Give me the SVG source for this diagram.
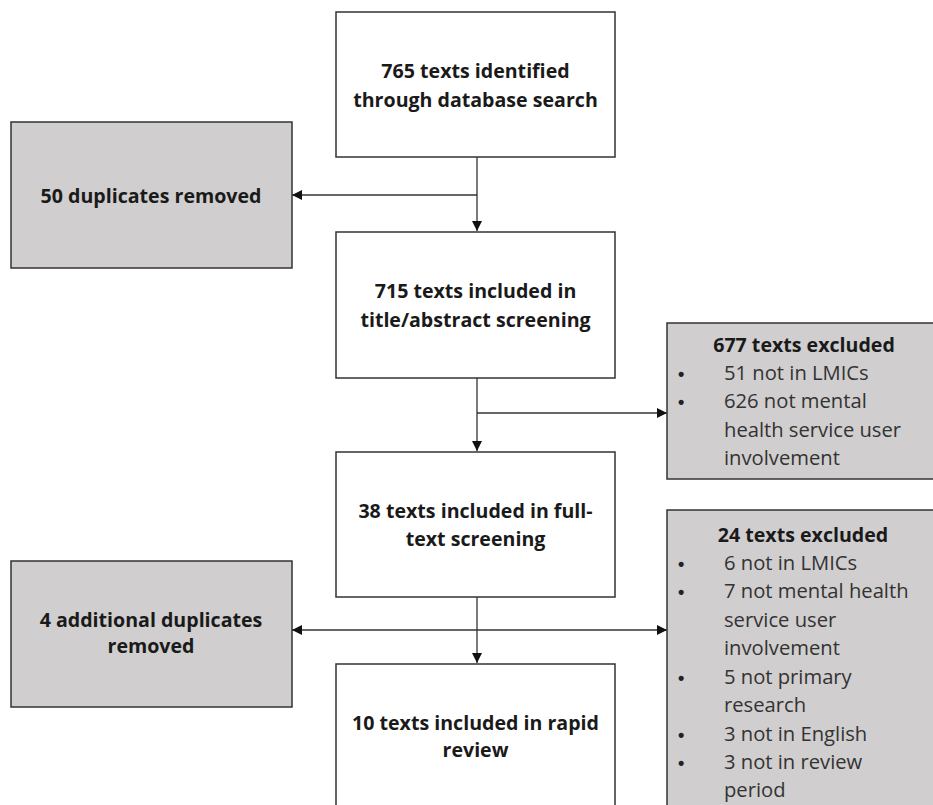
<svg xmlns="http://www.w3.org/2000/svg" width="933" height="805" viewBox="0 0 933 805">
<defs>
<marker id="ah" viewBox="0 0 10 10" refX="10" refY="5" markerWidth="10" markerHeight="10" markerUnits="userSpaceOnUse" orient="auto">
<path d="M0,0 L10,5 L0,10 Z" fill="#111"/>
</marker>
</defs>
<style>
.main{fill:#ffffff;stroke:#333;stroke-width:1.5}
.side{fill:#d0cece;stroke:#333;stroke-width:1.5}
.b{font-family:"Open Sans","Liberation Sans",sans-serif;font-weight:bold;font-size:19.6px;fill:#1a1a1a;text-anchor:middle}
.r{font-family:"Open Sans","Liberation Sans",sans-serif;font-size:20.2px;fill:#333}
.bul{font-family:"Liberation Sans",sans-serif;font-size:18px;font-weight:bold;fill:#222}
.c{stroke:#333;stroke-width:1.3;fill:none}
</style>
<rect width="933" height="805" fill="#ffffff"/>
<g id="connectors">
<line class="c" x1="477" y1="157" x2="477" y2="231" marker-end="url(#ah)"/>
<line class="c" x1="477" y1="195" x2="292" y2="195" marker-end="url(#ah)"/>
<line class="c" x1="477" y1="378" x2="477" y2="451" marker-end="url(#ah)"/>
<line class="c" x1="477" y1="413" x2="667" y2="413" marker-end="url(#ah)"/>
<line class="c" x1="477" y1="597" x2="477" y2="663" marker-end="url(#ah)"/>
<line class="c" x1="477" y1="630" x2="292" y2="630" marker-end="url(#ah)"/>
<line class="c" x1="477" y1="630" x2="667" y2="630" marker-end="url(#ah)"/>
</g>
<g id="n1">
<rect class="main" x="336" y="12" width="279" height="145"/>
<text class="b" x="475.5" y="78">765 texts identified</text>
<text class="b" x="475.5" y="107">through database search</text>
</g>
<g id="n2">
<rect class="side" x="11" y="122" width="281" height="146"/>
<text class="b" x="151" y="203">50 duplicates removed</text>
</g>
<g id="n3">
<rect class="main" x="336" y="232" width="279" height="146"/>
<text class="b" x="475.5" y="298">715 texts included in</text>
<text class="b" x="475.5" y="327">title/abstract screening</text>
</g>
<g id="n4">
<rect class="side" x="667" y="323" width="280" height="156"/>
<text class="b" x="804" y="352">677 texts excluded</text>
<text class="bul" x="678" y="380">•</text>
<text class="r" x="724" y="380">51 not in LMICs</text>
<text class="bul" x="678" y="408">•</text>
<text class="r" x="724" y="408">626 not mental</text>
<text class="r" x="724" y="437">health service user</text>
<text class="r" x="724" y="465">involvement</text>
</g>
<g id="n5">
<rect class="main" x="336" y="452" width="279" height="145"/>
<text class="b" x="475.5" y="518">38 texts included in full-</text>
<text class="b" x="475.5" y="546">text screening</text>
</g>
<g id="n6">
<rect class="side" x="11" y="561" width="281" height="146"/>
<text class="b" x="151" y="627">4 additional duplicates</text>
<text class="b" x="151" y="653">removed</text>
</g>
<g id="n7">
<rect class="side" x="667" y="510" width="280" height="310"/>
<text class="b" x="803" y="542">24 texts excluded</text>
<text class="bul" x="678" y="570">•</text>
<text class="r" x="724" y="570">6 not in LMICs</text>
<text class="bul" x="678" y="598">•</text>
<text class="r" x="724" y="598">7 not mental health</text>
<text class="r" x="724" y="627">service user</text>
<text class="r" x="724" y="655">involvement</text>
<text class="bul" x="678" y="684">•</text>
<text class="r" x="724" y="684">5 not primary</text>
<text class="r" x="724" y="712">research</text>
<text class="bul" x="678" y="741">•</text>
<text class="r" x="724" y="741">3 not in English</text>
<text class="bul" x="678" y="769">•</text>
<text class="r" x="724" y="769">3 not in review</text>
<text class="r" x="724" y="797">period</text>
</g>
<g id="n8">
<rect class="main" x="336" y="664" width="279" height="160"/>
<text class="b" x="475.5" y="730">10 texts included in rapid</text>
<text class="b" x="475.5" y="757">review</text>
</g>
</svg>
